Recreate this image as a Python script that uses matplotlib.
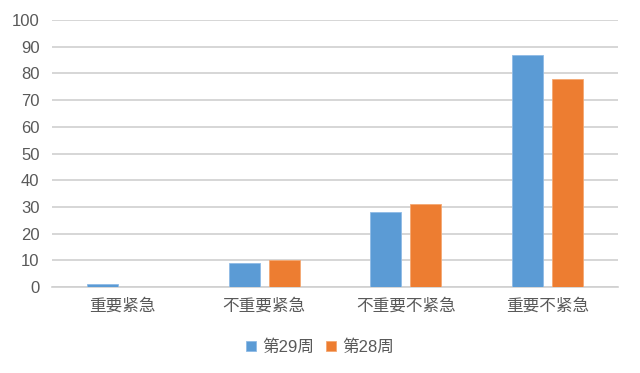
import matplotlib
matplotlib.use("Agg")
import matplotlib.pyplot as plt
import numpy as np

plt.rcParams['font.family'] = ['Liberation Sans', 'Noto Sans CJK SC', 'DejaVu Sans']

categories = ['重要紧急', '不重要紧急', '不重要不紧急', '重要不紧急']
week29 = [1, 9, 28, 87]
week28 = [0, 10, 31, 78]
labels = ['第29周', '第28周']
colors = ['#5B9BD5', '#ED7D31']

fig = plt.figure(figsize=(6.4, 3.73), dpi=100)
ax = fig.add_axes([52 / 640, 1 - 287 / 373, 566 / 640, 267 / 373])

x = np.arange(len(categories))
w = 0.22
ax.bar(x - 0.142, week29, w, color=colors[0], edgecolor='#8fbbe6', linewidth=0.6, label=labels[0], zorder=3)
ax.bar(x + 0.142, week28, w, color=colors[1], edgecolor='#f4a872', linewidth=0.6, label=labels[1], zorder=3)

ax.set_xlim(-0.5, 3.5)
ax.set_ylim(0, 100)
ax.set_yticks(range(0, 101, 10))
ax.set_xticks(x)
ax.set_xticklabels(categories, fontsize=12)
ax.yaxis.grid(True, color='#d0d0d0', linewidth=1.2, zorder=0)
for s in ['top', 'right', 'left']:
    ax.spines[s].set_visible(False)
ax.spines['bottom'].set_color('#d0d0d0')
ax.spines['bottom'].set_linewidth(1.2)
ax.tick_params(axis='both', length=0, colors='#595959', labelsize=12)
ax.tick_params(axis='x', pad=8)
ax.tick_params(axis='y', pad=9)

fig.legend(loc='center', bbox_to_anchor=(0.5, 1 - 347 / 373), ncol=2, frameon=False,
           fontsize=12, handlelength=0.6, handleheight=0.6, handletextpad=0.4,
           columnspacing=0.7, labelcolor='#595959')

fig.savefig('out.png', dpi=100)
